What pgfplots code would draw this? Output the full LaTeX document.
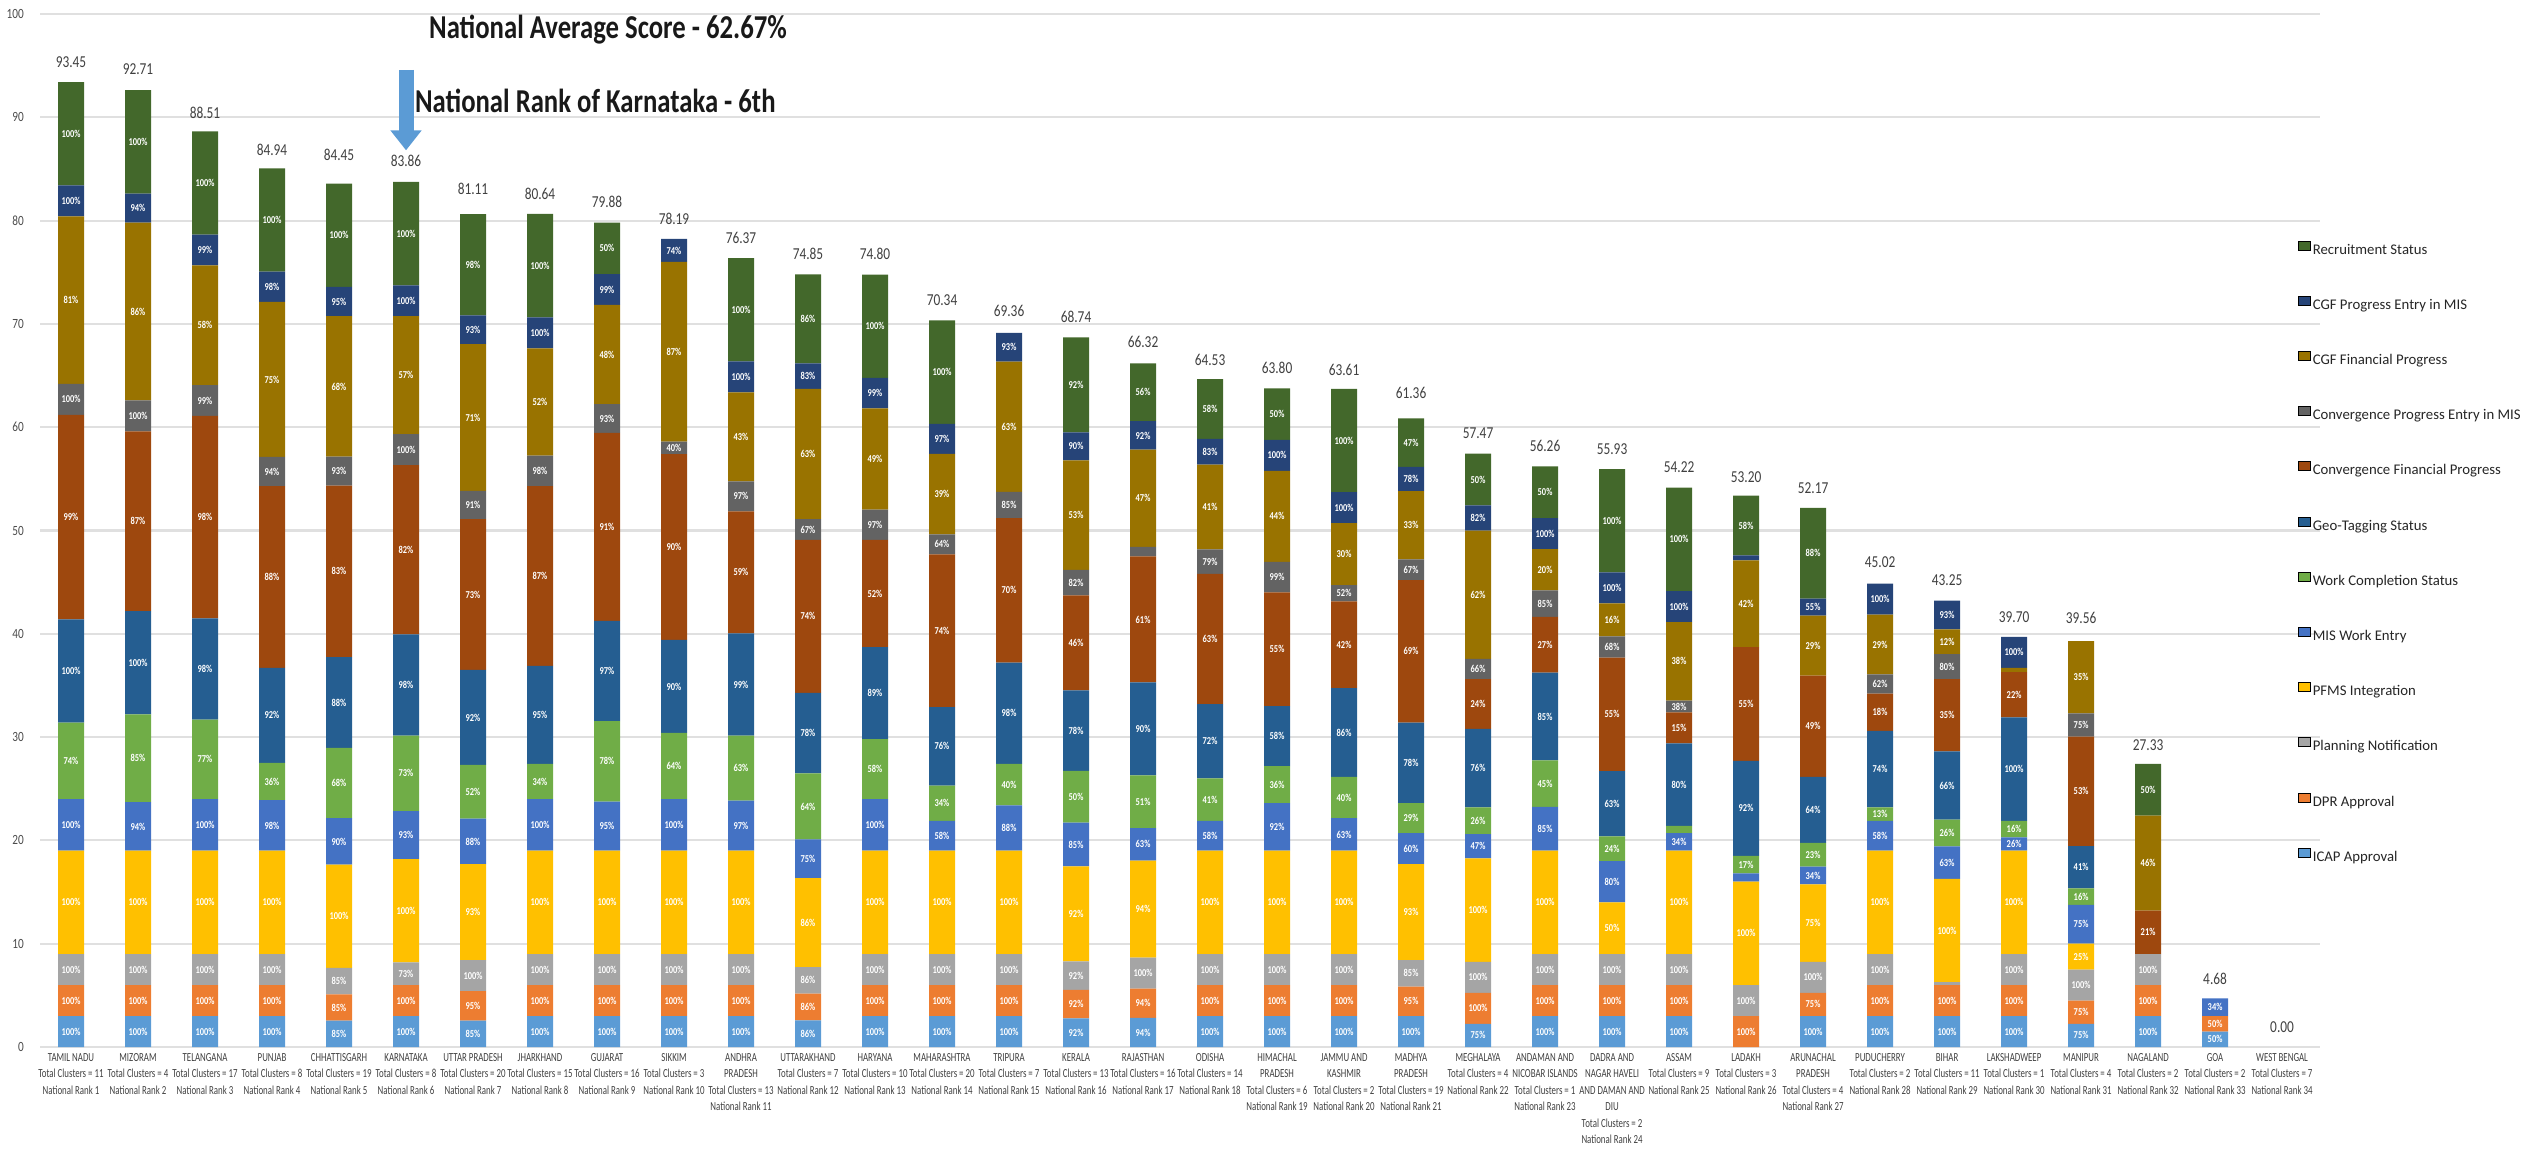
\documentclass[border=0pt]{standalone}
\usepackage{fontspec}
\setmainfont{Carlito}
\newfontfamily\condfont[FakeStretch=0.8]{Carlito}
\newfontfamily\xlabfont[FakeStretch=0.72]{Carlito}
\usepackage{pgfplots}
\usepackage{pgfplotstable}
\pgfplotsset{compat=1.18}
\usetikzlibrary{arrows.meta}

% Component colours (bottom to top of each bar)
\definecolor{cICAP}{HTML}{5B9BD5}
\definecolor{cDPR}{HTML}{ED7D31}
\definecolor{cPlan}{HTML}{A5A5A5}
\definecolor{cPFMS}{HTML}{FFC000}
\definecolor{cMIS}{HTML}{4472C4}
\definecolor{cWC}{HTML}{70AD47}
\definecolor{cGeo}{HTML}{255E91}
\definecolor{cCF}{HTML}{9E480E}
\definecolor{cCM}{HTML}{636363}
\definecolor{cGF}{HTML}{997300}
\definecolor{cGM}{HTML}{264478}
\definecolor{cRS}{HTML}{43682B}

% Achievement (%) per component; segment height = % x component weight / 100
% weights: p1 3, p2 3, p3 3, p4 10, p5 5, p6 10, p7 10, p8 20, p9 3, p10 20, p11 3, p12 10
\pgfplotstableread{
x  p1  p2  p3  p4  p5  p6  p7  p8  p9  p10 p11 p12 tot
0  100 100 100 100 100 74  100 99  100 81  100 100 93.45
1  100 100 100 100 94  85  100 87  100 86  94  100 92.71
2  100 100 100 100 100 77  98  98  99  58  99  100 88.51
3  100 100 100 100 98  36  92  88  94  75  98  100 84.94
4  85  85  85  100 90  68  88  83  93  68  95  100 84.45
5  100 100 73  100 93  73  98  82  100 57  100 100 83.86
6  85  95  100 93  88  52  92  73  91  71  93  98  81.11
7  100 100 100 100 100 34  95  87  98  52  100 100 80.64
8  100 100 100 100 95  78  97  91  93  48  99  50  79.88
9  100 100 100 100 100 64  90  90  40  87  74  0   78.19
10 100 100 100 100 97  63  99  59  97  43  100 100 76.37
11 86  86  86  86  75  64  78  74  67  63  83  86  74.85
12 100 100 100 100 100 58  89  52  97  49  99  100 74.80
13 100 100 100 100 58  34  76  74  64  39  97  100 70.34
14 100 100 100 100 88  40  98  70  85  63  93  0   69.36
15 92  92  92  92  85  50  78  46  82  53  90  92  68.74
16 94  94  100 94  63  51  90  61  31  47  92  56  66.32
17 100 100 100 100 58  41  72  63  79  41  83  58  64.53
18 100 100 100 100 92  36  58  55  99  44  100 50  63.80
19 100 100 100 100 63  40  86  42  52  30  100 100 63.61
20 100 95  85  93  60  29  78  69  67  33  78  47  61.36
21 75  100 100 100 47  26  76  24  66  62  82  50  57.47
22 100 100 100 100 85  45  85  27  85  20  100 50  56.26
23 100 100 100 50  80  24  63  55  68  16  100 100 55.93
24 100 100 100 100 34  7   80  15  38  38  100 100 54.22
25 0   100 100 100 16  17  92  55  0   42  16  58  53.20
26 100 75  100 75  34  23  64  49  0   29  55  88  52.17
27 100 100 100 100 58  13  74  18  62  29  100 0   45.02
28 100 100 9   100 63  26  66  35  80  12  93  0   43.25
29 100 100 100 100 26  16  100 22  0   2   100 0   39.70
30 75  75  100 25  75  16  41  53  75  35  0   0   39.56
31 100 100 100 0   0   0   0   21  0   46  0   50  27.33
32 50  50  0   0   34  0   0   0   0   0   0   0   4.68
33 0   0   0   0   0   0   0   0   0   0   0   0   0.00
}\data

% one stacked segment: #1 weight, #2 colour; the percentage travels as point meta
% and is printed in the middle of its segment
\pgfplotsset{
  seg/.style 2 args={
    fill=#2, draw=none, forget plot,
    point meta=explicit symbolic,
    nodes near coords={\pgfmathtruncatemacro\showit{\pgfplotspointmeta*#1>109}\ifnum\showit=1 \pgfplotspointmeta\%\fi},
    every node near coord/.style={anchor=center, inner sep=0pt, text=white,
      font=\condfont\bfseries\fontsize{6}{6}\selectfont},
  },
}

\begin{document}
\begin{tikzpicture}
\path[use as bounding box] (0,0) rectangle (50.58,23.12);
\begin{axis}[
  at={(0.8cm,2.18cm)}, anchor=south west,
  scale only axis, width=45.6cm, height=20.66cm,
  xmin=-0.463, xmax=33.567, ymin=0, ymax=100,
  ybar stacked, bar width=0.52cm,
  clip=false,
  axis line style={draw=none},
  major tick length=0pt,
  ytick={0,10,...,100},
  ymajorgrids, grid style={draw=black!12, line width=1.2pt},
  xtick={0,...,33},
  xticklabels={
    {TAMIL NADU\\Total Clusters = 11\\National Rank 1},
    {MIZORAM\\Total Clusters = 4\\National Rank 2},
    {TELANGANA\\Total Clusters = 17\\National Rank 3},
    {PUNJAB\\Total Clusters = 8\\National Rank 4},
    {CHHATTISGARH\\Total Clusters = 19\\National Rank 5},
    {KARNATAKA\\Total Clusters = 8\\National Rank 6},
    {UTTAR PRADESH\\Total Clusters = 20\\National Rank 7},
    {JHARKHAND\\Total Clusters = 15\\National Rank 8},
    {GUJARAT\\Total Clusters = 16\\National Rank 9},
    {SIKKIM\\Total Clusters = 3\\National Rank 10},
    {ANDHRA\\PRADESH\\Total Clusters = 13\\National Rank 11},
    {UTTARAKHAND\\Total Clusters = 7\\National Rank 12},
    {HARYANA\\Total Clusters = 10\\National Rank 13},
    {MAHARASHTRA\\Total Clusters = 20\\National Rank 14},
    {TRIPURA\\Total Clusters = 7\\National Rank 15},
    {KERALA\\Total Clusters = 13\\National Rank 16},
    {RAJASTHAN\\Total Clusters = 16\\National Rank 17},
    {ODISHA\\Total Clusters = 14\\National Rank 18},
    {HIMACHAL\\PRADESH\\Total Clusters = 6\\National Rank 19},
    {JAMMU AND\\KASHMIR\\Total Clusters = 2\\National Rank 20},
    {MADHYA\\PRADESH\\Total Clusters = 19\\National Rank 21},
    {MEGHALAYA\\Total Clusters = 4\\National Rank 22},
    {ANDAMAN AND\\NICOBAR ISLANDS\\Total Clusters = 1\\National Rank 23},
    {DADRA AND\\NAGAR HAVELI\\AND DAMAN AND\\DIU\\Total Clusters = 2\\National Rank 24},
    {ASSAM\\Total Clusters = 9\\National Rank 25},
    {LADAKH\\Total Clusters = 3\\National Rank 26},
    {ARUNACHAL\\PRADESH\\Total Clusters = 4\\National Rank 27},
    {PUDUCHERRY\\Total Clusters = 2\\National Rank 28},
    {BIHAR\\Total Clusters = 11\\National Rank 29},
    {LAKSHADWEEP\\Total Clusters = 1\\National Rank 30},
    {MANIPUR\\Total Clusters = 4\\National Rank 31},
    {NAGALAND\\Total Clusters = 2\\National Rank 32},
    {GOA\\Total Clusters = 2\\National Rank 33},
    {WEST BENGAL\\Total Clusters = 7\\National Rank 34},
  },
  xticklabel style={align=center, anchor=north, font=\xlabfont\fontsize{7}{9.4}\selectfont, text=black!75},
  yticklabel style={font=\condfont\fontsize{8}{9}\selectfont, text=black!70, xshift=-0.2cm},
  /pgf/number format/assume math mode=true,
  reverse legend,
  legend cell align=left,
  legend style={draw=none, fill=none, at={(0.990,0.781)}, anchor=north west,
    font=\fontsize{8.4}{9}\selectfont, text=black!85, row sep=0.77cm, column sep=0.05cm,
    inner sep=0pt, nodes={inner sep=0pt, text height=6pt, text depth=1.8pt}},
  legend image code/.code={\fill[#1] (0cm,0.01cm) rectangle (0.24cm,0.19cm);},
]
\addplot[seg={3}{cICAP}]   table[x=x, y expr=\thisrow{p1}*3/100,   meta=p1]  {\data};
\addplot[seg={3}{cDPR}]    table[x=x, y expr=\thisrow{p2}*3/100,   meta=p2]  {\data};
\addplot[seg={3}{cPlan}]   table[x=x, y expr=\thisrow{p3}*3/100,   meta=p3]  {\data};
\addplot[seg={10}{cPFMS}]  table[x=x, y expr=\thisrow{p4}*10/100,  meta=p4]  {\data};
\addplot[seg={5}{cMIS}]    table[x=x, y expr=\thisrow{p5}*5/100,   meta=p5]  {\data};
\addplot[seg={10}{cWC}]    table[x=x, y expr=\thisrow{p6}*10/100,  meta=p6]  {\data};
\addplot[seg={10}{cGeo}]   table[x=x, y expr=\thisrow{p7}*10/100,  meta=p7]  {\data};
\addplot[seg={20}{cCF}]    table[x=x, y expr=\thisrow{p8}*20/100,  meta=p8]  {\data};
\addplot[seg={3}{cCM}]     table[x=x, y expr=\thisrow{p9}*3/100,   meta=p9]  {\data};
\addplot[seg={20}{cGF}]    table[x=x, y expr=\thisrow{p10}*20/100, meta=p10] {\data};
\addplot[seg={3}{cGM}]     table[x=x, y expr=\thisrow{p11}*3/100,  meta=p11] {\data};
\addplot[seg={10}{cRS}]    table[x=x, y expr=\thisrow{p12}*10/100, meta=p12] {\data};

% legend swatches
\addlegendimage{fill=cICAP}  \addlegendentry{ICAP Approval}
\addlegendimage{fill=cDPR}   \addlegendentry{DPR Approval}
\addlegendimage{fill=cPlan}  \addlegendentry{Planning Notification}
\addlegendimage{fill=cPFMS}  \addlegendentry{PFMS Integration}
\addlegendimage{fill=cMIS}   \addlegendentry{MIS Work Entry}
\addlegendimage{fill=cWC}    \addlegendentry{Work Completion Status}
\addlegendimage{fill=cGeo}   \addlegendentry{Geo-Tagging Status}
\addlegendimage{fill=cCF}    \addlegendentry{Convergence Financial Progress}
\addlegendimage{fill=cCM}    \addlegendentry{Convergence Progress Entry in MIS}
\addlegendimage{fill=cGF}    \addlegendentry{CGF Financial Progress}
\addlegendimage{fill=cGM}    \addlegendentry{CGF Progress Entry in MIS}
\addlegendimage{fill=cRS}    \addlegendentry{Recruitment Status}

% headline annotations
\node[anchor=west, inner sep=0pt, text=black!90,
  font=\condfont\bfseries\fontsize{19}{22}\selectfont] at (axis cs:5.34,98.45) {National Average Score - 62.67\%};
\node[anchor=west, inner sep=0pt, text=black!90,
  font=\condfont\bfseries\fontsize{19}{22}\selectfont] at (axis cs:5.13,91.6) {National Rank of Karnataka - 6th};
\draw[-{Triangle[width=0.6cm,length=0.4cm]}, line width=0.3cm, draw=cICAP]
  (axis cs:5,94.6) -- (axis cs:5,86.8);
\end{axis}

% total score above each bar
\begin{axis}[
  at={(0.8cm,2.18cm)}, anchor=south west,
  scale only axis, width=45.6cm, height=20.66cm,
  xmin=-0.463, xmax=33.567, ymin=0, ymax=100,
  hide axis, clip=false,
  /pgf/number format/assume math mode=true,
  nodes near coords={\pgfmathprintnumber[fixed,fixed zerofill,precision=2]{\pgfplotspointmeta}},
  every node near coord/.append style={anchor=south, inner sep=0pt, yshift=0.28cm,
    font=\condfont\fontsize{9.5}{10}\selectfont, text=black!75},
]
\addplot[draw=none, mark=none, point meta=explicit] table[x=x, y=tot, meta=tot] {\data};
\end{axis}
\end{tikzpicture}
\end{document}
